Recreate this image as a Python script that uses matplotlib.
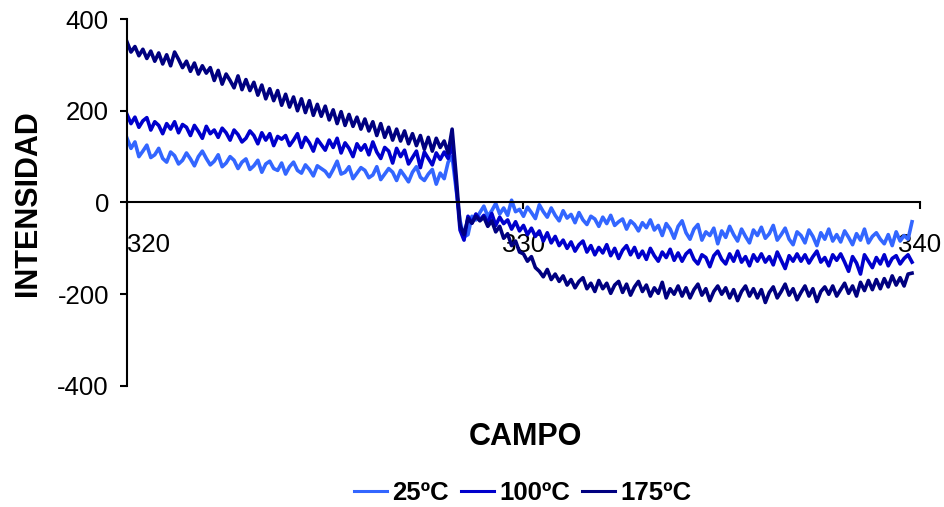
import numpy as np
import matplotlib
matplotlib.use('Agg')
import matplotlib.pyplot as plt

plt.rcParams['font.family'] = ['Liberation Sans', 'DejaVu Sans']
plt.rcParams['axes.unicode_minus'] = False

# campo magnetico (x) cada 0.1 desde 320 hasta 339.8
campo = np.round(np.linspace(320.0, 339.8, 199), 1)

# 25ºC
int_25 = [
    140, 118, 132, 100, 112, 125, 98, 104, 118, 96,
    88, 110, 102, 84, 92, 108, 95, 80, 100, 112,
    96, 82, 90, 104, 78, 86, 100, 92, 74, 88,
    95, 72, 80, 92, 66, 84, 90, 74, 70, 86,
    62, 78, 88, 70, 64, 82, 72, 58, 80, 74,
    68, 56, 72, 90, 62, 66, 78, 52, 64, 76,
    70, 54, 60, 78, 50, 62, 74, 66, 48, 70,
    58, 45, 66, 78, 55, 48, 62, 72, 40, 64,
    52, 88, 100, 30, -40, -75, -70, -30, -38, -22,
    -8, -30, -18, -2, -25, -12, -28, 5, -20, -15,
    -30, -10, -22, -35, -5, -20, -32, -12, -28, -40,
    -18, -34, -26, -44, -22, -38, -48, -30, -36, -52,
    -32, -46, -28, -50, -42, -36, -58, -40, -48, -62,
    -44, -55, -38, -60, -50, -72, -46, -58, -78, -52,
    -40, -66, -80, -58, -48, -82, -64, -72, -56, -90,
    -62, -76, -52, -70, -84, -58, -74, -88, -60, -72,
    -54, -78, -68, -50, -82, -70, -56, -80, -92, -64,
    -72, -88, -60, -74, -94, -66, -80, -58, -84, -70,
    -86, -62, -76, -92, -68, -82, -58, -88, -74, -66,
    -80, -90, -70, -94, -64, -84, -72, -80, -42,
]

# 100ºC
int_100 = [
    192, 172, 186, 164, 178, 185, 158, 176, 168, 150,
    172, 160, 176, 152, 170, 164, 146, 168, 155, 140,
    166, 150, 158, 142, 162, 152, 136, 158, 148, 132,
    140, 156, 146, 128, 152, 136, 150, 124, 144, 138,
    146, 124, 136, 150, 120, 142, 130, 112, 138, 126,
    114, 136, 120, 140, 108, 130, 118, 100, 128, 114,
    126, 104, 132, 110, 96, 120, 112, 86, 118, 100,
    114, 84, 98, 112, 76, 110, 96, 82, 108, 94,
    110, 96, 130, 40, -60, -82, -30, -45, -25, -38,
    -28, -44, -24, -50, -32, -46, -38, -58, -42, -62,
    -50, -70, -56, -74, -62, -84, -66, -88, -74, -94,
    -82, -100, -86, -106, -92, -84, -108, -94, -114, -98,
    -110, -92, -116, -100, -122, -104, -94, -114, -98, -120,
    -106, -124, -100, -116, -128, -108, -120, -102, -126, -110,
    -128, -112, -104, -124, -134, -114, -120, -140, -116, -106,
    -124, -134, -112, -128, -106, -130, -118, -138, -114, -128,
    -112, -130, -118, -136, -108, -126, -144, -116, -128, -112,
    -128, -114, -132, -118, -106, -130, -120, -138, -114, -126,
    -112, -130, -150, -118, -132, -156, -114, -128, -142, -120,
    -134, -114, -138, -122, -116, -134, -122, -114, -130,
]

# 175ºC
int_175 = [
    350, 328, 340, 320, 334, 314, 330, 308, 326, 302,
    322, 298, 328, 312, 294, 308, 286, 304, 280, 298,
    282, 294, 266, 288, 258, 280, 266, 250, 276, 246,
    268, 244, 262, 234, 256, 226, 248, 222, 244, 212,
    236, 208, 230, 200, 226, 196, 222, 190, 214, 188,
    210, 180, 202, 172, 198, 168, 192, 166, 186, 160,
    182, 156, 176, 146, 172, 142, 164, 136, 160, 134,
    156, 128, 150, 124, 146, 116, 142, 112, 140, 120,
    134, 108, 160, 60, -50, -70, -35, -45, -30, -40,
    -32, -52, -40, -64, -52, -78, -68, -94, -84, -108,
    -112, -128, -118, -142, -150, -162, -146, -168, -156, -172,
    -160, -180, -168, -186, -172, -164, -188, -176, -194, -170,
    -188, -176, -198, -180, -172, -196, -178, -202, -184, -172,
    -194, -180, -204, -186, -198, -174, -208, -188, -200, -182,
    -204, -186, -208, -190, -178, -202, -188, -214, -194, -182,
    -200, -186, -208, -190, -214, -194, -182, -204, -188, -208,
    -190, -218, -196, -184, -208, -194, -178, -202, -188, -212,
    -196, -182, -204, -188, -216, -194, -184, -200, -182, -204,
    -190, -176, -198, -182, -204, -174, -192, -170, -190, -168,
    -188, -166, -184, -160, -180, -164, -182, -156, -154,
]

etiquetas = ['25ºC', '100ºC', '175ºC']
colores = ['#3366FF', '#0000CC', '#000080']
x_ticks = [320, 330, 340]
y_ticks = [-400, -200, 0, 200, 400]

fig = plt.figure(figsize=(9.45, 5.07), dpi=100)
ax = fig.add_axes([0.1344, 0.2387, 0.8391, 0.7238])

for serie, lab, col in zip([int_25, int_100, int_175], etiquetas, colores):
    ax.plot(campo, serie, color=col, lw=2.6, label=lab)

ax.set_xlim(320, 340)
ax.set_ylim(-400, 400)
ax.set_xticks(x_ticks)
ax.set_yticks(y_ticks)

# ejes al estilo excel: eje x cruzando en y=0
ax.spines['top'].set_visible(False)
ax.spines['right'].set_visible(False)
ax.spines['bottom'].set_position(('data', 0))
ax.spines['left'].set_linewidth(1.5)
ax.spines['bottom'].set_linewidth(1.5)

ax.tick_params(axis='y', direction='out', length=5, width=1.5, pad=8, labelsize=18.5)
ax.tick_params(axis='x', direction='out', length=5, width=1.5, pad=17, labelsize=18.5)
xl = ax.get_xticklabels()
xl[0].set_horizontalalignment('left')

fig.text(0.030, 0.600, 'INTENSIDAD', rotation=90, fontsize=22, fontweight='bold',
         ha='center', va='center')
fig.text(0.556, 0.138, 'CAMPO', fontsize=22, fontweight='bold', ha='center', va='center')

leg = fig.legend(loc='center', bbox_to_anchor=(0.553, 0.027), ncol=3, frameon=False,
                 prop={'weight': 'bold', 'size': 18.5}, handlelength=1.3,
                 handletextpad=0.2, columnspacing=0.45)
for h in leg.get_lines():
    h.set_linewidth(2.2)

plt.savefig('out.png', dpi=100)
